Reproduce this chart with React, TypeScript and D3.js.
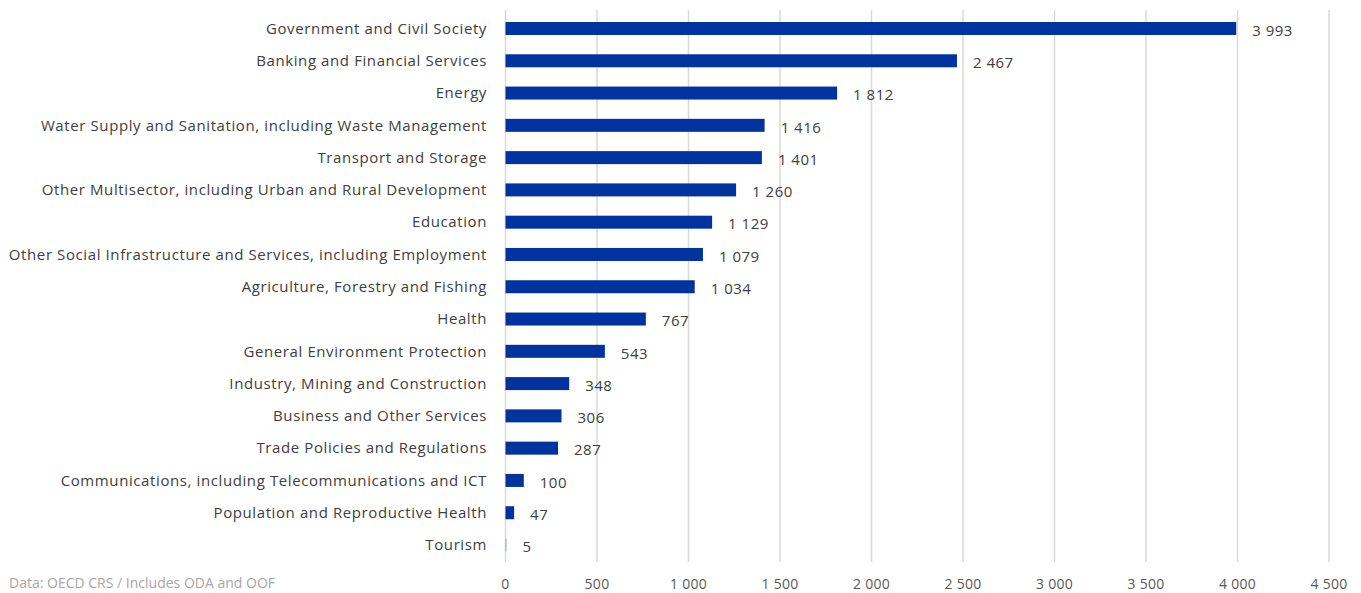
import { useEffect, useRef } from 'react';
import * as d3 from 'd3';

const categories = [
  'Government and Civil Society',
  'Banking and Financial Services',
  'Energy',
  'Water Supply and Sanitation, including Waste Management',
  'Transport and Storage',
  'Other Multisector, including Urban and Rural Development',
  'Education',
  'Other Social Infrastructure and Services, including Employment',
  'Agriculture, Forestry and Fishing',
  'Health',
  'General Environment Protection',
  'Industry, Mining and Construction',
  'Business and Other Services',
  'Trade Policies and Regulations',
  'Communications, including Telecommunications and ICT',
  'Population and Reproductive Health',
  'Tourism',
];
const values = [3993, 2467, 1812, 1416, 1401, 1260, 1129, 1079, 1034, 767, 543, 348, 306, 287, 100, 47, 5];
const tickValues = [0, 500, 1000, 1500, 2000, 2500, 3000, 3500, 4000, 4500];
const footnote = 'Data: OECD CRS / Includes ODA and OOF';

const fmt = (v: number) => d3.format(',')(v).replace(/,/g, ' ');

export default function App() {
  const svgRef = useRef<SVGSVGElement>(null);

  useEffect(() => {
    if (!svgRef.current) return;
    const svg = d3.select(svgRef.current);
    svg.selectAll('*').remove();

    const font = "'Open Sans', sans-serif";
    const x = d3.scaleLinear().domain([0, 4500]).range([505.5, 1329]);
    // bar centres
    const y = d3.scalePoint<string>().domain(categories).range([28.5, 545]);
    const barH = 13;

    // gridlines
    svg
      .append('g')
      .selectAll('line')
      .data(tickValues)
      .enter()
      .append('line')
      .attr('x1', (d) => x(d))
      .attr('x2', (d) => x(d))
      .attr('y1', 10)
      .attr('y2', 562)
      .attr('stroke', '#d9d9d9')
      .attr('stroke-width', 1.5);

    // tick labels
    svg
      .append('g')
      .selectAll('text')
      .data(tickValues)
      .enter()
      .append('text')
      .attr('x', (d) => x(d))
      .attr('y', 589)
      .attr('text-anchor', 'middle')
      .attr('font-family', font)
      .attr('font-size', 14)
      .attr('letter-spacing', 0.3)
      .attr('fill', '#595959')
      .text((d) => fmt(d));

    // bars
    svg
      .append('g')
      .selectAll('rect')
      .data(values)
      .enter()
      .append('rect')
      .attr('x', x(0))
      .attr('y', (_, i) => y(categories[i])! - barH / 2)
      .attr('width', (d) => Math.max(x(d) - x(0), 1))
      .attr('height', barH)
      .attr('fill', (d) => (d < 10 ? '#8fa6db' : '#0033a0'));

    // category labels
    svg
      .append('g')
      .selectAll('text')
      .data(categories)
      .enter()
      .append('text')
      .attr('x', 487)
      .attr('y', (d) => y(d)!)
      .attr('dy', '0.35em')
      .attr('text-anchor', 'end')
      .attr('font-family', font)
      .attr('font-size', 15)
      .attr('letter-spacing', 0.6)
      .attr('fill', '#404040')
      .text((d) => d);

    // value labels
    svg
      .append('g')
      .selectAll('text')
      .data(values)
      .enter()
      .append('text')
      .attr('x', (d) => x(d) + 16)
      .attr('y', (_, i) => y(categories[i])! + 2)
      .attr('dy', '0.35em')
      .attr('font-family', font)
      .attr('font-size', 15)
      .attr('letter-spacing', 0.5)
      .attr('fill', '#404040')
      .text((d) => fmt(d));

    svg
      .append('text')
      .attr('x', 9)
      .attr('y', 588)
      .attr('font-family', font)
      .attr('font-size', 14)
      .attr('fill', '#a6a6a6')
      .text(footnote);
  }, []);

  return (
    <div style={{ position: 'absolute', left: 0, top: 0 }}>
      <svg ref={svgRef} width={1361} height={593} style={{ display: 'block' }} />
    </div>
  );
}
